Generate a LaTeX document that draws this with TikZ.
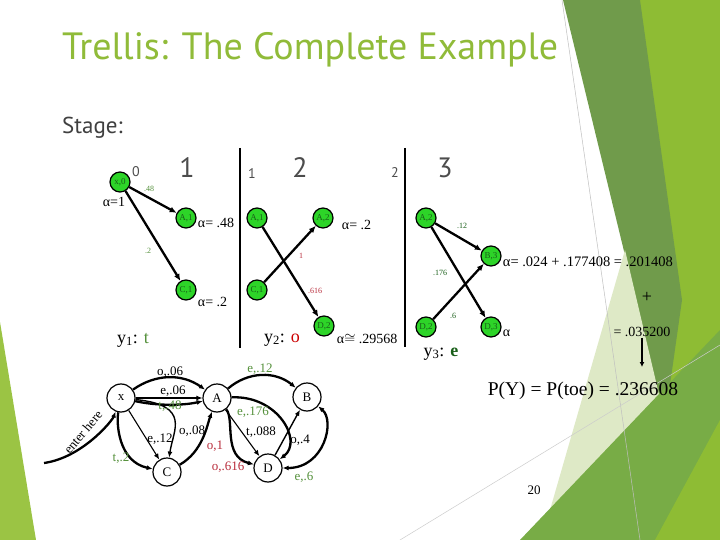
\documentclass[tikz,border=0pt]{standalone}
\usepackage{fontspec}
\setmainfont{Liberation Serif}
\newfontfamily\slidefont{PT Sans}
\usepackage{tikz}
\usetikzlibrary{arrows.meta, positioning}

\definecolor{titlegreen}{RGB}{144,187,57}
\definecolor{nodegreen}{RGB}{45,212,40}
\definecolor{darkgreen}{RGB}{25,95,25}
\definecolor{lgreen}{RGB}{85,145,60}
\definecolor{lred}{RGB}{185,45,60}
\definecolor{bgdark}{RGB}{112,155,75}
\definecolor{bgmid}{RGB}{120,172,70}
\definecolor{bgyellow}{RGB}{142,188,52}
\definecolor{bgleft}{RGB}{155,196,68}
\definecolor{bgpale}{RGB}{222,233,198}

\begin{document}
\begin{tikzpicture}[x=1pt,y=1pt,yscale=-1,xscale=1,
  tnode/.style={circle,draw,line width=1.2pt,fill=nodegreen,minimum size=20pt,inner sep=0pt,font=\fontsize{9}{9}\selectfont,text=darkgreen},
  tedge/.style={line width=2.3pt,-{Latex[length=7pt,width=6pt]}},
  snode/.style={circle,draw,line width=1.2pt,fill=white,minimum size=28pt,inner sep=0pt,font=\fontsize{13}{13}\selectfont},
  thick edge/.style={line width=2.3pt,-{Latex[length=6pt,width=5pt]}},
  thin edge/.style={line width=1.1pt,-{Latex[length=6pt,width=5pt]}},
  lbl/.style={inner sep=0.75pt,font=\fontsize{13}{13}\selectfont},
  tlbl/.style={inner sep=0.75pt,font=\fontsize{8}{8}\selectfont},
  alpha/.style={inner sep=0.75pt,font=\fontsize{14}{14}\selectfont},
  stagenum/.style={inner sep=0pt,font=\slidefont\fontsize{28}{28}\selectfont,text=black!70},
  stagesmall/.style={inner sep=0pt,font=\slidefont\fontsize{14}{14}\selectfont,text=black!70}]
\useasboundingbox (0,0) rectangle (720,540);
\fill[white] (0,0) rectangle (720,540);

% background facets
\fill[bgyellow] (637,0) -- (720,0) -- (720,540) -- (655,540) -- cycle;
\fill[bgdark] (563,0) -- (640,0) -- (682,300) -- (665,420) -- cycle;
\fill[bgpale] (625,250) -- (665,420) -- (650,540) -- (550,510) -- cycle;
\fill[bgmid] (520,540) -- (720,330) -- (720,540) -- cycle;
\fill[bgyellow] (655,540) -- (720,420) -- (720,540) -- cycle;
\fill[bgleft] (0,322) -- (36,540) -- (0,540) -- cycle;
\draw[black!25,line width=0.5pt] (562,0) -- (640,540);
\draw[black!20,line width=0.5pt] (400,540) -- (720,345);

% title
\node[anchor=base west,inner sep=0pt,font=\slidefont\fontsize{38}{38}\selectfont,text=titlegreen] (title) at (62,60) {Trellis: The Complete Example};
\node[anchor=base west,inner sep=0pt,font=\slidefont\fontsize{23}{23}\selectfont,text=black!75] (stage) at (62,134) {Stage:};

% stage numbers
\node[stagenum] (s1) at (187,168) {1};
\node[stagenum] (s2) at (300,168) {2};
\node[stagenum] (s3) at (445,168) {3};
\node[stagesmall] (n0) at (136,172) {0};
\node[stagesmall] (n1) at (252,174) {1};
\node[stagesmall] (n2) at (395,173) {2};

% stage separators
\draw[line width=1.5pt] (240,148) -- (240,348);
\draw[line width=1.5pt] (405,148) -- (405,347);

% trellis nodes
\node[tnode] (x0) at (120,182) {x,0};
\node[tnode] (A1) at (186,218) {A,1};
\node[tnode] (C1) at (186,290) {C,1};
\node[tnode] (A1b) at (257,218) {A,1};
\node[tnode] (C1b) at (257,290) {C,1};
\node[tnode] (A2) at (323,218) {A,2};
\node[tnode] (D2) at (324,326) {D,2};
\node[tnode] (A2b) at (426,218) {A,2};
\node[tnode] (D2b) at (426,327) {D,2};
\node[tnode] (B3) at (491,256) {B,3};
\node[tnode] (D3) at (491,327) {D,3};

% trellis edges
\draw[tedge] (x0) -- (A1);
\draw[tedge] (x0) -- (C1);
\draw[tedge] (A1b) -- (D2);
\draw[tedge] (C1b) -- (A2);
\draw[tedge] (A2b) -- (B3);
\draw[tedge] (A2b) -- (D3);
\draw[tedge] (D2b) -- (B3);

% trellis edge labels
\node[tlbl,text=lgreen] (w48) at (149,189) {.48};
\node[tlbl,text=lgreen] (w2) at (148,251) {.2};
\node[tlbl,text=lred] (w1) at (301,256) {1};
\node[tlbl,text=lred] (w616) at (315,291) {.616};
\node[tlbl,text=darkgreen] (w12) at (462,226) {.12};
\node[tlbl,text=darkgreen] (w176) at (440,273) {.176};
\node[tlbl,text=darkgreen] (w6) at (453,316) {.6};

% forward values
\node[alpha] (a0) at (114,202) {α=1};
\node[alpha,anchor=west] (aA1) at (197,223) {α= .48};
\node[alpha,anchor=west] (aC1) at (197,302) {α= .2};
\node[alpha,anchor=west] (aA2) at (341,225) {α= .2};
\node[alpha,anchor=west] (aD2) at (336,339) {α$\cong$ .29568};
\node[alpha,anchor=west,font=\fontsize{14.5}{14.5}\selectfont] (aB3) at (502,262) {α= .024 + .177408 = .201408};
\node[alpha,anchor=west] (aD3) at (502,333) {α};
\node[font=\fontsize{18}{18}\selectfont,inner sep=0pt] (plus) at (647,297) {+};
\node[alpha] (aD3v) at (642,332) {= .035200};
\node[font=\fontsize{19.5}{19.5}\selectfont,inner sep=0.75pt] (total) at (583,391) {P(Y) = P(toe) = .236608};
\coordinate (sumend) at (aD3v.south |- 0,367);
\draw[line width=1.3pt,-{Latex[length=5pt,width=5pt]}] (aD3v.south) -- (sumend);

% observations
\node[font=\fontsize{18}{18}\selectfont,inner sep=0pt] (y1) at (133,340) {y\textsubscript{1}: \textcolor{lgreen}{t}};
\node[font=\fontsize{18}{18}\selectfont,inner sep=0pt] (y2) at (282,340) {y\textsubscript{2}: \textcolor{red!80!black}{o}};
\node[font=\fontsize{18}{18}\selectfont,inner sep=0pt] (y3) at (441,354) {y\textsubscript{3}: \textcolor{darkgreen}{\textbf{e}}};

% state machine
\node[snode] (sx) at (121,398) {x};
\node[snode] (sA) at (217,398) {A};
\node[snode] (sB) at (307,397) {B};
\node[snode] (sC) at (167,472) {C};
\node[snode] (sD) at (268,468) {D};
\coordinate (enter) at (44,463);

\draw[thick edge] (sx) to[bend right=35] (sA);
\draw[thin edge] (sx) -- (sA);
\draw[thick edge] (sx) to[out=35,in=145] (sA);
\draw[thick edge] (sA) to[bend right=40] (sB);
\draw[thick edge] (sA) to[out=-5,in=-55,looseness=1.3] (sD);
\draw[thin edge] (sA) -- (sD);
\draw[thick edge] (sA) to[out=70,in=-150] (sD);
\draw[line width=1.4pt,-{Latex[length=6pt,width=5pt]}] (sD) -- (sB);
\draw[line width=2.3pt,{Latex[length=6pt,width=5pt]}-{Latex[length=6pt,width=5pt]}] (sB) to[out=60,in=0,looseness=1.2] (sD);
\draw[line width=1.4pt,-{Latex[length=6pt,width=5pt]}] (sx) to[out=10,in=-85,looseness=1.5] (sC);
\draw[thin edge] (sx) -- (sC);
\draw[thick edge] (sx) to[out=95,in=-155] (sC);
\draw[thick edge] (sC) to[out=-50,in=100] (sA);
\draw[thick edge] (enter) to[out=-8,in=100,looseness=0.9] (sx);

% state machine labels
\node[lbl] (l1) at (170,372) {o,.06};
\node[lbl] (l2) at (173,391) {e,.06};
\node[lbl,text=lgreen] (l3) at (170,406) {t,.48};
\node[lbl,text=lgreen] (l4) at (260,369) {e,.12};
\node[lbl,text=lgreen] (l5) at (253,412) {e,.176};
\node[lbl] (l6) at (261,432) {t,.088};
\node[lbl,text=lred] (l7) at (228,467) {o,.616};
\node[lbl] (l8) at (300,440) {o,.4};
\node[lbl,text=lgreen] (l9) at (304,477) {e,.6};
\node[lbl] (l10) at (192,431) {o,.08};
\node[lbl] (l11) at (160,439) {e,.12};
\node[lbl,text=lgreen] (l12) at (121,458) {t,.2};
\node[lbl,text=lred] (l13) at (215,446) {o,1};
\node[lbl,rotate=50] (l14) at (83,432) {enter here};

\node[font=\fontsize{13}{13}\selectfont,inner sep=0pt] (page) at (534,490) {20};
\end{tikzpicture}
\end{document}
